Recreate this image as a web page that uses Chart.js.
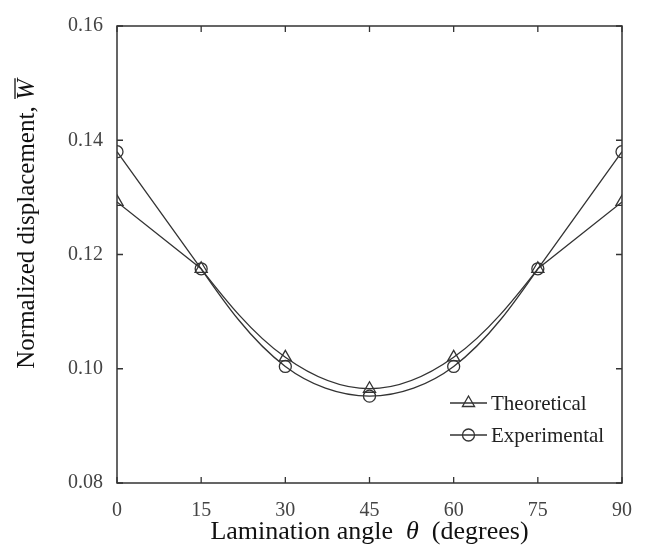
<!DOCTYPE html>
<html lang="en">
<head>
  <meta charset="UTF-8" />
  <title>Normalized displacement vs lamination angle</title>
  <script src="https://cdn.jsdelivr.net/npm/chart.js"></script>
  <style>
    body { margin: 0; background: #fff; }
    #chart { display: block; }
  </style>
</head>
<body>
<canvas id="chart" width="648" height="549"></canvas>
<script>
  // data
  const angles = [0, 15, 30, 45, 60, 75, 90];
  const theoretical = [0.1292, 0.1175, 0.1020, 0.0965, 0.1020, 0.1175, 0.1292];
  const experimental = [0.1380, 0.1175, 0.1004, 0.0952, 0.1004, 0.1175, 0.1380];
  const seriesNames = ['Theoretical', 'Experimental'];
  const xTicks = [0, 15, 30, 45, 60, 75, 90];
  const yTicks = [0.08, 0.10, 0.12, 0.14, 0.16];

  const serif = "'Liberation Serif', 'Times New Roman', serif";
  const ink = '#333';

  const toPoints = vals => angles.map((a, i) => ({ x: a, y: vals[i] }));

  // first and last segments are straight, the middle is one smooth bowl
  const straightEnds = {
    id: 'straightEnds',
    beforeDatasetsDraw(chart) {
      chart.data.datasets.forEach((ds, i) => {
        const meta = chart.getDatasetMeta(i);
        const p = meta.data;
        if (!meta.dataset || p.length < 4) return;
        meta.dataset.updateControlPoints(chart.chartArea, 'x');
        const n = p.length;
        p[0].cp2x = p[0].x; p[0].cp2y = p[0].y;
        p[1].cp1x = p[1].x; p[1].cp1y = p[1].y;
        p[n - 2].cp2x = p[n - 2].x; p[n - 2].cp2y = p[n - 2].y;
        p[n - 1].cp1x = p[n - 1].x; p[n - 1].cp1y = p[n - 1].y;
        // start the inner curve heading for the next control point
        const k = 0.45;
        p[1].cp2x = p[1].x + (p[2].cp1x - p[1].x) * k;
        p[1].cp2y = p[1].y + (p[2].cp1y - p[1].y) * k;
        p[n - 2].cp1x = p[n - 2].x + (p[n - 3].cp2x - p[n - 2].x) * k;
        p[n - 2].cp1y = p[n - 2].y + (p[n - 3].cp2y - p[n - 2].y) * k;
      });
    }
  };

  // box, inward ticks, axis titles and the legend
  const decorations = {
    id: 'decorations',
    afterDraw(chart) {
      const ctx = chart.ctx;
      const a = chart.chartArea;
      const xs = chart.scales.x, ys = chart.scales.y;
      ctx.save();
      ctx.strokeStyle = ink;
      ctx.lineWidth = 1.5;
      ctx.strokeRect(a.left, a.top, a.right - a.left, a.bottom - a.top);

      const tl = 6;
      ctx.lineWidth = 1.3;
      ctx.beginPath();
      xTicks.forEach(v => {
        const px = xs.getPixelForValue(v);
        ctx.moveTo(px, a.bottom); ctx.lineTo(px, a.bottom - tl);
        ctx.moveTo(px, a.top); ctx.lineTo(px, a.top + tl);
      });
      yTicks.forEach(v => {
        const py = ys.getPixelForValue(v);
        ctx.moveTo(a.left, py); ctx.lineTo(a.left + tl, py);
        ctx.moveTo(a.right, py); ctx.lineTo(a.right - tl, py);
      });
      ctx.stroke();

      // x title
      ctx.fillStyle = '#111';
      ctx.textBaseline = 'middle';
      ctx.textAlign = 'left';
      const fN = '26px ' + serif, fI = 'italic 26px ' + serif;
      const parts = [['Lamination angle  ', fN], ['\u03b8', fI], ['  (degrees)', fN]];
      let total = 0;
      parts.forEach(p => { ctx.font = p[1]; total += ctx.measureText(p[0]).width; });
      let x = (a.left + a.right) / 2 - total / 2;
      parts.forEach(p => { ctx.font = p[1]; ctx.fillText(p[0], x, 532); x += ctx.measureText(p[0]).width; });

      // y title, rotated, with W-bar
      const gN = '25px ' + serif, gI = 'italic 25px ' + serif;
      ctx.save();
      ctx.translate(27, 224);
      ctx.rotate(-Math.PI / 2);
      ctx.font = gN;
      const t1 = 'Normalized displacement, ';
      const w1 = ctx.measureText(t1).width;
      ctx.font = gI;
      const w2 = ctx.measureText('W').width;
      const sx = -(w1 + w2) / 2;
      ctx.font = gN;
      ctx.fillText(t1, sx, 0);
      ctx.font = gI;
      ctx.fillText('W', sx + w1, 0);
      ctx.lineWidth = 1.3;
      ctx.strokeStyle = '#111';
      ctx.beginPath();
      ctx.moveTo(sx + w1 + 1, -12);
      ctx.lineTo(sx + w1 + w2 + 1, -12);
      ctx.stroke();
      ctx.restore();

      // legend
      const lx = 450, lw = 37;
      const rows = [403, 435];
      chart.data.datasets.forEach((ds, i) => {
        const y = rows[i];
        ctx.strokeStyle = ink;
        ctx.lineWidth = 1.3;
        ctx.beginPath();
        ctx.moveTo(lx, y); ctx.lineTo(lx + lw, y);
        ctx.stroke();
        ctx.fillStyle = 'rgba(0,0,0,0)';
        Chart.helpers.drawPoint(ctx, {
          pointStyle: ds.pointStyle, radius: ds.pointRadius, borderWidth: 1.3
        }, lx + lw / 2, y);
        ctx.font = '21px ' + serif;
        ctx.fillStyle = '#222';
        ctx.fillText(ds.label, lx + lw + 4, y + 1);
      });
      ctx.restore();
    }
  };

  const common = {
    borderColor: ink,
    borderWidth: 1.3,
    pointBorderColor: ink,
    pointBackgroundColor: 'rgba(0,0,0,0)',
    pointBorderWidth: 1.3,
    tension: 0.35,
    fill: false
  };

  new Chart(document.getElementById('chart'), {
    type: 'line',
    data: {
      datasets: [
        Object.assign({ label: seriesNames[0], data: toPoints(theoretical), pointStyle: 'triangle', pointRadius: 7 }, common),
        Object.assign({ label: seriesNames[1], data: toPoints(experimental), pointStyle: 'circle', pointRadius: 6 }, common)
      ]
    },
    options: {
      responsive: false,
      animation: false,
      layout: { padding: { top: 23, right: 23, left: 0, bottom: 0 } },
      plugins: { legend: { display: false }, tooltip: { enabled: false } },
      scales: {
        x: {
          type: 'linear',
          min: 0, max: 90,
          afterFit: s => { s.height = 66; },
          afterBuildTicks: s => { s.ticks = xTicks.map(v => ({ value: v })); },
          grid: { display: false, drawTicks: false },
          border: { display: false },
          ticks: { color: '#444', padding: 16, maxRotation: 0, font: { family: serif, size: 20 } }
        },
        y: {
          min: 0.08, max: 0.16,
          afterFit: s => { s.width = 117; },
          afterBuildTicks: s => { s.ticks = yTicks.map(v => ({ value: v })); },
          grid: { display: false, drawTicks: false },
          border: { display: false },
          ticks: {
            color: '#444', padding: 14,
            font: { family: serif, size: 20 },
            callback: v => v.toFixed(2)
          }
        }
      }
    },
    plugins: [straightEnds, decorations]
  });
</script>
</body>
</html>
